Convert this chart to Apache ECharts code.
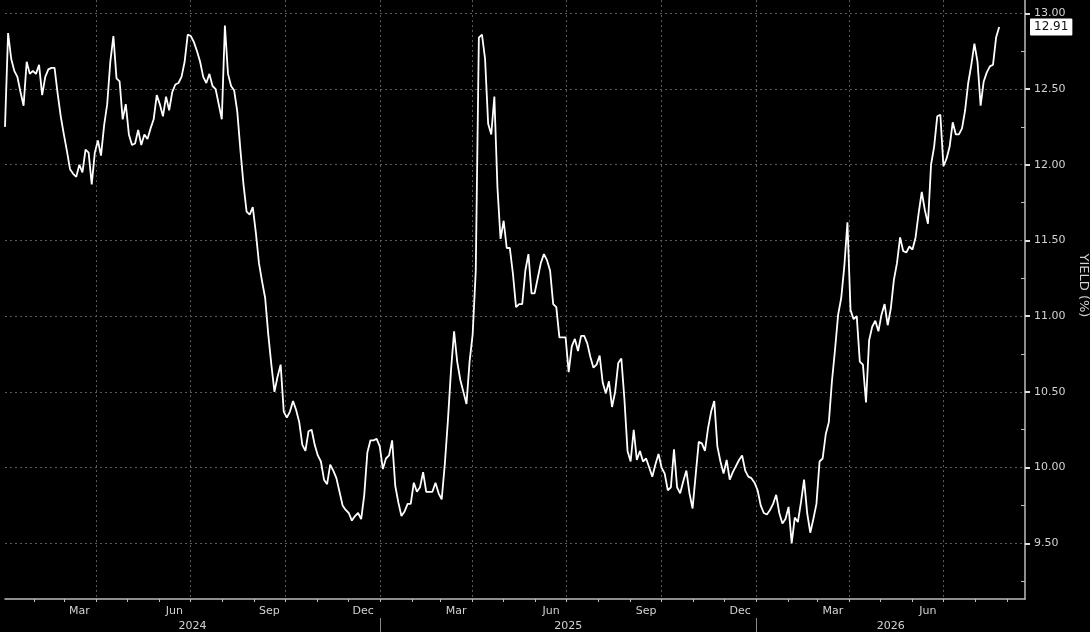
<!DOCTYPE html>
<html>
<head>
<meta charset="utf-8">
<script src="https://cdn.jsdelivr.net/npm/echarts@6/dist/echarts.min.js"></script>
<style>
html,body{margin:0;padding:0;background:#000;}
#chart{width:1090px;height:632px;}
</style>
</head>
<body>
<div id="chart"></div>
<script>
// ---- data ----
const seriesStart = '2024-01-04';
const stepDays = 3;
const yield2024 = [
12.25,12.87,12.70,12.62,12.58,12.48,12.39,12.68,12.60,12.62,
12.60,12.66,12.46,12.58,12.63,12.64,12.64,12.47,12.32,12.20,
12.09,11.97,11.94,11.92,12.00,11.95,12.10,12.08,11.87,12.08,
12.16,12.06,12.26,12.40,12.68,12.85,12.57,12.55,12.30,12.40,
12.20,12.13,12.14,12.23,12.13,12.20,12.17,12.24,12.30,12.46,
12.40,12.32,12.45,12.36,12.48,12.53,12.54,12.58,12.68,12.86,
12.85,12.81,12.75,12.68,12.58,12.54,12.60,12.52,12.50,12.40,
12.30,12.92,12.60,12.52,12.49,12.35,12.10,11.87,11.69,11.67,
11.72,11.55,11.35,11.23,11.12,10.88,10.68,10.50,10.60,10.68,
10.37,10.33,10.37,10.44,10.38,10.30,10.15,10.11,10.24,10.25,
10.15,10.08,10.04,9.92,9.89,10.02,9.98,9.93,9.84,9.75,
9.72,9.70,9.65,9.68,9.70,9.66,9.82,10.10,10.18,10.18,
10.19
];
const yield2025 = [
10.14,9.99,10.06,10.08,10.18,9.88,9.77,9.68,9.71,
9.76,9.76,9.90,9.84,9.87,9.97,9.84,9.84,9.84,9.90,
9.83,9.79,10.02,10.31,10.64,10.90,10.70,10.58,10.50,10.42,
10.70,10.88,11.30,12.84,12.86,12.70,12.27,12.20,12.45,11.85,
11.51,11.63,11.45,11.45,11.28,11.06,11.08,11.08,11.30,11.41,
11.15,11.15,11.25,11.35,11.41,11.37,11.30,11.08,11.06,10.86,
10.86,10.86,10.63,10.80,10.85,10.77,10.87,10.87,10.82,10.73,
10.66,10.68,10.74,10.56,10.49,10.57,10.40,10.50,10.69,10.72,
10.45,10.11,10.04,10.25,10.05,10.11,10.04,10.06,10.00,9.94,
10.02,10.09,10.00,9.96,9.85,9.87,10.12,9.87,9.83,9.91,
9.98,9.83,9.73,9.95,10.17,10.16,10.11,10.26,10.37,10.44,
10.14,10.04,9.96,10.05,9.92,9.97,10.01,10.05,10.08,9.98,
9.94,9.93,9.90
];
const yield2026 = [
9.85,9.75,9.70,9.69,9.72,9.76,9.82,
9.70,9.63,9.66,9.74,9.50,9.67,9.64,9.77,9.92,9.70,
9.57,9.66,9.76,10.04,10.06,10.22,10.30,10.57,10.78,11.01,
11.12,11.33,11.62,11.04,10.98,11.00,10.70,10.68,10.43,10.84,
10.93,10.97,10.90,11.01,11.08,10.94,11.05,11.24,11.35,11.52,
11.43,11.42,11.46,11.44,11.52,11.68,11.82,11.70,11.61,12.00,
12.12,12.32,12.33,11.99,12.04,12.12,12.28,12.20,12.20,12.24,
12.36,12.54,12.66,12.80,12.68,12.39,12.55,12.61,12.65,12.66,
12.84,12.91
];
const axisStart = '2024-01-04';
const axisEnd = '2026-09-18';
const yTickValues = [9.5, 10, 10.5, 11, 11.5, 12, 12.5, 13];
const yMinorTicks = [9.25, 9.75, 10.25, 10.75, 11.25, 11.75, 12.25, 12.75];
const yMin = 9.132, yMax = 13.088;
const monthNames = ['Jan','Feb','Mar','Apr','May','Jun','Jul','Aug','Sep','Oct','Nov','Dec'];
const labelledMonths = [2, 5, 8, 11];
const years = [2024, 2025, 2026];
const axisName = 'YIELD (%)';

// ---- build ----
const DAY = 86400000;
function ts(s){ const p = s.split('-').map(Number); return Date.UTC(p[0], p[1]-1, p[2]); }
const t0 = ts(seriesStart);
const values = yield2024.concat(yield2025, yield2026);
const data = values.map((v, i) => [t0 + i * stepDays * DAY, v]);
const lastValue = values[values.length - 1];
const xMin = ts(axisStart), xMax = ts(axisEnd);

const monthStarts = [], quarterStarts = [], midMonths = [], yearStarts = [], yearMids = [];
years.forEach(y => {
  for (let m = 0; m < 12; m++) {
    const t = Date.UTC(y, m, 1);
    const tEnd = Date.UTC(y, m + 1, 1);
    if (t > xMin && t < xMax) {
      monthStarts.push(t);
      if (m % 3 === 0) quarterStarts.push(t);
      if (m === 0) yearStarts.push(t);
    }
    const mid = Date.UTC(y, m, 16);
    if (labelledMonths.indexOf(m) >= 0 && mid > xMin && tEnd <= xMax) midMonths.push(mid);
  }
  const a = Math.max(Date.UTC(y, 0, 1), xMin), b = Math.min(Date.UTC(y + 1, 0, 1), xMax);
  if (b > a) yearMids.push((a + b) / 2);
});

const FONT = 'DejaVu Sans';
const LABEL = '#d2d2d2';
const AXIS = '#bdbdbd';
const GRID = '#5a5a5a';

const chart = echarts.init(document.getElementById('chart'), null, {renderer: 'canvas'});
const baseX = {type: 'value', min: xMin, max: xMax, position: 'bottom', gridIndex: 0, scale: true};
chart.setOption({
  backgroundColor: '#000',
  animation: false,
  grid: {left: 5, right: 65, top: 0, bottom: 33, containLabel: false, outerBoundsMode: 'none'},
  xAxis: [
    Object.assign({}, baseX, {
      axisLine: {show: true, lineStyle: {color: AXIS, width: 1.5}},
      axisTick: {show: true, customValues: monthStarts, length: 3, lineStyle: {color: AXIS}},
      axisLabel: {show: false},
      splitLine: {show: false}
    }),
    Object.assign({}, baseX, {
      axisLine: {show: false},
      axisTick: {show: false, customValues: quarterStarts},
      axisLabel: {show: false},
      splitLine: {show: true, lineStyle: {color: GRID, type: [2, 3], width: 1}}
    }),
    Object.assign({}, baseX, {
      axisLine: {show: false},
      axisTick: {show: false},
      splitLine: {show: false},
      axisLabel: {
        show: true, customValues: midMonths, margin: 7,
        color: LABEL, fontFamily: FONT, fontSize: 11,
        formatter: v => monthNames[new Date(v).getUTCMonth()]
      }
    }),
    Object.assign({}, baseX, {
      offset: 19,
      axisLine: {show: false},
      axisTick: {show: true, customValues: yearStarts, length: 14, lineStyle: {color: '#8a8a8a', width: 1}},
      splitLine: {show: false},
      axisLabel: {
        show: true, customValues: yearMids, margin: 3,
        color: LABEL, fontFamily: FONT, fontSize: 11,
        formatter: v => String(new Date(v).getUTCFullYear())
      }
    })
  ],
  yAxis: [
    {
      type: 'value', position: 'right', min: yMin, max: yMax,
      axisLine: {show: true, lineStyle: {color: AXIS, width: 1.5}},
      axisTick: {show: true, customValues: yTickValues, length: 5, lineStyle: {color: '#e0e0e0', width: 2}},
      axisLabel: {show: true, customValues: yTickValues, margin: 9, color: LABEL, fontFamily: FONT, fontSize: 11,
        formatter: v => Number(v).toFixed(2)},
      splitLine: {show: true, lineStyle: {color: GRID, type: [2, 3], width: 1}},
      name: axisName, nameLocation: 'middle', nameRotate: -90, nameGap: 52,
      nameTextStyle: {color: LABEL, fontFamily: FONT, fontSize: 13, padding: [0, 28, 0, 0]}
    },
    {
      type: 'value', position: 'right', min: yMin, max: yMax,
      axisLine: {show: false},
      axisTick: {show: true, inside: true, customValues: yMinorTicks, length: 4, lineStyle: {color: AXIS}},
      axisLabel: {show: false},
      splitLine: {show: false}
    },
    {
      type: 'value', position: 'right', min: yMin, max: yMax,
      axisLine: {show: false},
      axisTick: {show: false, customValues: [lastValue]},
      splitLine: {show: false},
      axisLabel: {
        show: true, customValues: [lastValue], margin: 5,
        color: '#111', backgroundColor: '#fff', padding: [3, 4, 2, 4],
        borderRadius: 1, fontFamily: FONT, fontSize: 12,
        formatter: v => Number(v).toFixed(2)
      }
    }
  ],
  series: [{
    type: 'line',
    xAxisIndex: 0, yAxisIndex: 0,
    data: data,
    showSymbol: false,
    symbol: 'none',
    lineStyle: {color: '#ffffff', width: 1.8},
    silent: true
  }]
});
</script>
</body>
</html>
